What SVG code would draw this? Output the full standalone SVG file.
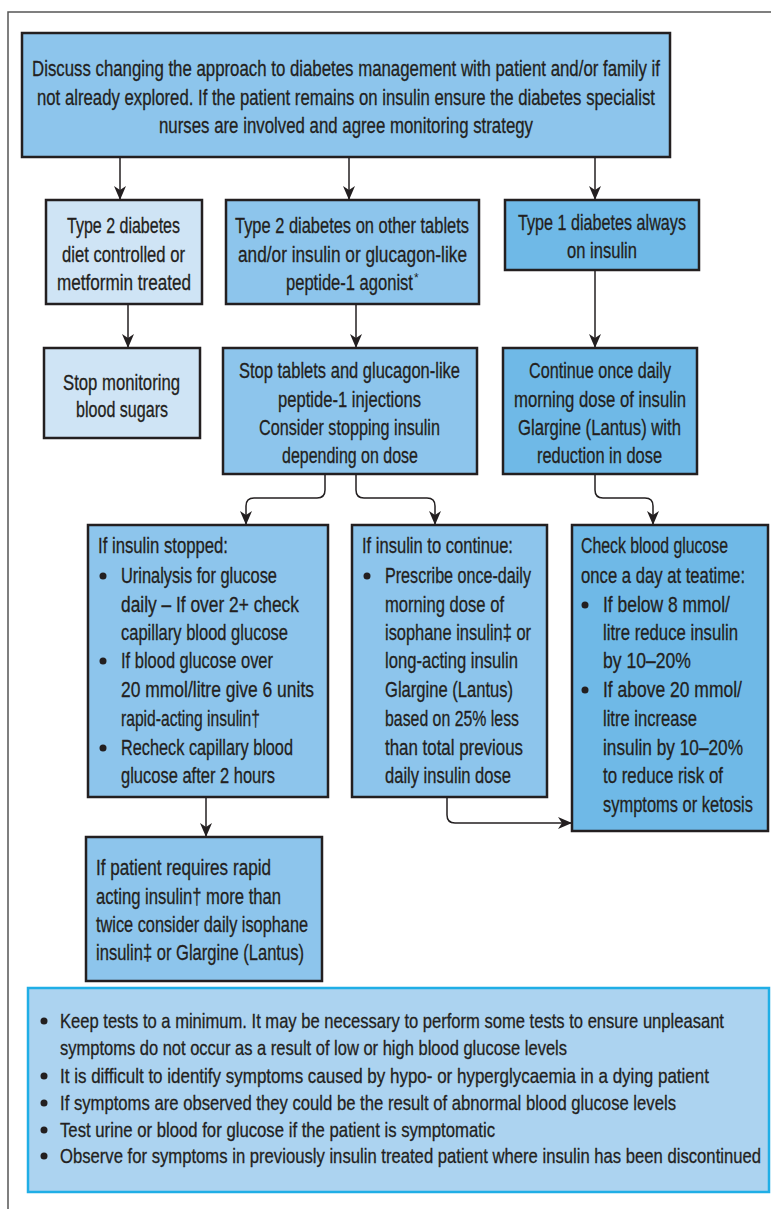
<svg xmlns="http://www.w3.org/2000/svg" width="771" height="1209" viewBox="0 0 771 1209">
<style>
.bx{stroke:#231f20;stroke-width:2.5}
.lt{fill:#cfe4f5}
.md{fill:#8dc5ec}
.dk{fill:#6fb9e7}
.t{font-family:"Liberation Sans",Arial,sans-serif;font-size:22px;fill:#231f20;stroke:#231f20;stroke-width:0.3}
.s{font-size:21px}
.c{fill:none;stroke:#231f20;stroke-width:1.5}
.b{fill:#231f20}
</style>
<defs>
<marker id="ah" viewBox="0 -7 14 14" markerWidth="14" markerHeight="14" refX="14" refY="0" orient="auto" markerUnits="userSpaceOnUse">
<path d="M0,-6 L14,0 L0,6 L4,0 z" fill="#231f20"/>
</marker>
</defs>
<rect width="771" height="1209" fill="#fff"/>
<path d="M8,1209 V12 H771" fill="none" stroke="#555" stroke-width="1.5"/>

<g id="connectors">
<path class="c" marker-end="url(#ah)" d="M120,157 V200"/>
<path class="c" marker-end="url(#ah)" d="M349,157 V200"/>
<path class="c" marker-end="url(#ah)" d="M595,157 V200"/>
<path class="c" marker-end="url(#ah)" d="M128,304 V348"/>
<path class="c" marker-end="url(#ah)" d="M356,304 V348"/>
<path class="c" marker-end="url(#ah)" d="M595,270 V348"/>
<path class="c" marker-end="url(#ah)" d="M325,474 V490 Q325,498 317,498 H254 Q246,498 246,506 V525"/>
<path class="c" marker-end="url(#ah)" d="M356,474 V490 Q356,498 364,498 H427 Q435,498 435,506 V525"/>
<path class="c" marker-end="url(#ah)" d="M595,474 V490 Q595,498 603,498 H645 Q653,498 653,506 V525"/>
<path class="c" marker-end="url(#ah)" d="M206,797 V837"/>
<path class="c" marker-end="url(#ah)" d="M447,797 V815 Q447,823 455,823 H572"/>
</g>

<g id="n0">
<rect class="bx md" x="22" y="33" width="648" height="124"/>
<text class="t" transform="translate(32,76) scale(0.75,1)" textLength="837.3" lengthAdjust="spacingAndGlyphs">Discuss changing the approach to diabetes management with patient and/or family if</text>
<text class="t" transform="translate(37,105) scale(0.75,1)" textLength="824" lengthAdjust="spacingAndGlyphs">not already explored. If the patient remains on insulin ensure the diabetes specialist</text>
<text class="t" transform="translate(159,133) scale(0.75,1)" textLength="498.7" lengthAdjust="spacingAndGlyphs">nurses are involved and agree monitoring strategy</text>
</g>

<g id="n1">
<rect class="bx lt" x="46" y="200" width="156" height="104"/>
<text class="t" transform="translate(67,233) scale(0.75,1)" textLength="150.7" lengthAdjust="spacingAndGlyphs">Type 2 diabetes</text>
<text class="t" transform="translate(62,262) scale(0.75,1)" textLength="164" lengthAdjust="spacingAndGlyphs">diet controlled or</text>
<text class="t" transform="translate(57,290) scale(0.75,1)" textLength="178.7" lengthAdjust="spacingAndGlyphs">metformin treated</text>
</g>

<g id="n2">
<rect class="bx md" x="226" y="200" width="253" height="104"/>
<text class="t" transform="translate(235,233) scale(0.75,1)" textLength="312" lengthAdjust="spacingAndGlyphs">Type 2 diabetes on other tablets</text>
<text class="t" transform="translate(238,262) scale(0.75,1)" textLength="305.3" lengthAdjust="spacingAndGlyphs">and/or insulin or glucagon-like</text>
<text class="t" transform="translate(286,290) scale(0.75,1)" textLength="169.3" lengthAdjust="spacingAndGlyphs">peptide-1 agonist</text>
<text x="414" y="282" style="font-family:'Liberation Sans',Arial,sans-serif;font-size:12px;fill:#231f20">*</text>
</g>

<g id="n3">
<rect class="bx dk" x="505" y="200" width="194" height="70"/>
<text class="t" transform="translate(518,230) scale(0.75,1)" textLength="224" lengthAdjust="spacingAndGlyphs">Type 1 diabetes always</text>
<text class="t" transform="translate(567,258) scale(0.75,1)" textLength="93.3" lengthAdjust="spacingAndGlyphs">on insulin</text>
</g>

<g id="n4">
<rect class="bx lt" x="44" y="348" width="156" height="90"/>
<text class="t" transform="translate(63,390) scale(0.75,1)" textLength="156" lengthAdjust="spacingAndGlyphs">Stop monitoring</text>
<text class="t" transform="translate(76,417) scale(0.75,1)" textLength="122.7" lengthAdjust="spacingAndGlyphs">blood sugars</text>
</g>

<g id="n5">
<rect class="bx md" x="223" y="348" width="254" height="126"/>
<text class="t" transform="translate(239,378) scale(0.75,1)" textLength="294.7" lengthAdjust="spacingAndGlyphs">Stop tablets and glucagon-like</text>
<text class="t" transform="translate(278,407) scale(0.75,1)" textLength="190.7" lengthAdjust="spacingAndGlyphs">peptide-1 injections</text>
<text class="t" transform="translate(259,435) scale(0.75,1)" textLength="241.3" lengthAdjust="spacingAndGlyphs">Consider stopping insulin</text>
<text class="t" transform="translate(282,463) scale(0.75,1)" textLength="181.3" lengthAdjust="spacingAndGlyphs">depending on dose</text>
</g>

<g id="n6">
<rect class="bx dk" x="503" y="348" width="194" height="126"/>
<text class="t" transform="translate(529,378) scale(0.75,1)" textLength="189.3" lengthAdjust="spacingAndGlyphs">Continue once daily</text>
<text class="t" transform="translate(514,407) scale(0.75,1)" textLength="229.3" lengthAdjust="spacingAndGlyphs">morning dose of insulin</text>
<text class="t" transform="translate(518,435) scale(0.75,1)" textLength="217.3" lengthAdjust="spacingAndGlyphs">Glargine (Lantus) with</text>
<text class="t" transform="translate(537,463) scale(0.75,1)" textLength="166.7" lengthAdjust="spacingAndGlyphs">reduction in dose</text>
</g>

<g id="n7">
<rect class="bx md" x="88" y="525" width="240" height="272"/>
<text class="t" transform="translate(98,553) scale(0.75,1)" textLength="173.3" lengthAdjust="spacingAndGlyphs">If insulin stopped:</text>
<circle class="b" cx="103" cy="576" r="3.5"/>
<circle class="b" cx="103" cy="661" r="3.5"/>
<circle class="b" cx="103" cy="748" r="3.5"/>
<text class="t" transform="translate(121,583) scale(0.75,1)" textLength="208" lengthAdjust="spacingAndGlyphs">Urinalysis for glucose</text>
<text class="t" transform="translate(121,612) scale(0.75,1)" textLength="237.3" lengthAdjust="spacingAndGlyphs">daily – If over 2+ check</text>
<text class="t" transform="translate(121,640) scale(0.75,1)" textLength="222.7" lengthAdjust="spacingAndGlyphs">capillary blood glucose</text>
<text class="t" transform="translate(121,668) scale(0.75,1)" textLength="202.7" lengthAdjust="spacingAndGlyphs">If blood glucose over</text>
<text class="t" transform="translate(121,697) scale(0.75,1)" textLength="257.3" lengthAdjust="spacingAndGlyphs">20 mmol/litre give 6 units</text>
<text class="t" transform="translate(121,726) scale(0.75,1)" textLength="185.3" lengthAdjust="spacingAndGlyphs">rapid-acting insulin†</text>
<text class="t" transform="translate(121,755) scale(0.75,1)" textLength="229.3" lengthAdjust="spacingAndGlyphs">Recheck capillary blood</text>
<text class="t" transform="translate(121,783) scale(0.75,1)" textLength="205.3" lengthAdjust="spacingAndGlyphs">glucose after 2 hours</text>
</g>

<g id="n8">
<rect class="bx md" x="352" y="525" width="195" height="272"/>
<text class="t" transform="translate(362,553) scale(0.75,1)" textLength="201.3" lengthAdjust="spacingAndGlyphs">If insulin to continue:</text>
<circle class="b" cx="367" cy="576" r="3.5"/>
<text class="t" transform="translate(385,583) scale(0.75,1)" textLength="194.7" lengthAdjust="spacingAndGlyphs">Prescribe once-daily</text>
<text class="t" transform="translate(385,612) scale(0.75,1)" textLength="158.7" lengthAdjust="spacingAndGlyphs">morning dose of</text>
<text class="t" transform="translate(385,640) scale(0.75,1)" textLength="194.7" lengthAdjust="spacingAndGlyphs">isophane insulin‡ or</text>
<text class="t" transform="translate(385,668) scale(0.75,1)" textLength="177.3" lengthAdjust="spacingAndGlyphs">long-acting insulin</text>
<text class="t" transform="translate(385,697) scale(0.75,1)" textLength="170.7" lengthAdjust="spacingAndGlyphs">Glargine (Lantus)</text>
<text class="t" transform="translate(385,726) scale(0.75,1)" textLength="178.7" lengthAdjust="spacingAndGlyphs">based on 25% less</text>
<text class="t" transform="translate(385,755) scale(0.75,1)" textLength="184" lengthAdjust="spacingAndGlyphs">than total previous</text>
<text class="t" transform="translate(385,783) scale(0.75,1)" textLength="168" lengthAdjust="spacingAndGlyphs">daily insulin dose</text>
</g>

<g id="n9">
<rect class="bx dk" x="572" y="525" width="196" height="306"/>
<text class="t" transform="translate(581,553) scale(0.75,1)" textLength="196" lengthAdjust="spacingAndGlyphs">Check blood glucose</text>
<text class="t" transform="translate(581,583) scale(0.75,1)" textLength="218.7" lengthAdjust="spacingAndGlyphs">once a day at teatime:</text>
<circle class="b" cx="585" cy="605" r="3.5"/>
<circle class="b" cx="585" cy="690" r="3.5"/>
<text class="t" transform="translate(603,612) scale(0.75,1)" textLength="169.3" lengthAdjust="spacingAndGlyphs">If below 8 mmol/</text>
<text class="t" transform="translate(603,640) scale(0.75,1)" textLength="180" lengthAdjust="spacingAndGlyphs">litre reduce insulin</text>
<text class="t" transform="translate(603,668) scale(0.75,1)" textLength="117.3" lengthAdjust="spacingAndGlyphs">by 10–20%</text>
<text class="t" transform="translate(603,697) scale(0.75,1)" textLength="185.3" lengthAdjust="spacingAndGlyphs">If above 20 mmol/</text>
<text class="t" transform="translate(603,726) scale(0.75,1)" textLength="125.3" lengthAdjust="spacingAndGlyphs">litre increase</text>
<text class="t" transform="translate(603,755) scale(0.75,1)" textLength="186.7" lengthAdjust="spacingAndGlyphs">insulin by 10–20%</text>
<text class="t" transform="translate(603,783) scale(0.75,1)" textLength="160" lengthAdjust="spacingAndGlyphs">to reduce risk of</text>
<text class="t" transform="translate(603,812) scale(0.75,1)" textLength="200" lengthAdjust="spacingAndGlyphs">symptoms or ketosis</text>
</g>

<g id="n10">
<rect class="bx md" x="86" y="837" width="236" height="144"/>
<text class="t" transform="translate(96,875) scale(0.75,1)" textLength="233.3" lengthAdjust="spacingAndGlyphs">If patient requires rapid</text>
<text class="t" transform="translate(96,904) scale(0.75,1)" textLength="246.7" lengthAdjust="spacingAndGlyphs">acting insulin† more than</text>
<text class="t" transform="translate(96,932) scale(0.75,1)" textLength="282.7" lengthAdjust="spacingAndGlyphs">twice consider daily isophane</text>
<text class="t" transform="translate(96,960) scale(0.75,1)" textLength="277.3" lengthAdjust="spacingAndGlyphs">insulin‡ or Glargine (Lantus)</text>
</g>

<g id="n11">
<rect x="28" y="988" width="741" height="204" fill="#acd3f0" stroke="#20aee6" stroke-width="2.5"/>
<circle class="b" cx="44" cy="1021" r="3.5"/>
<circle class="b" cx="44" cy="1076" r="3.5"/>
<circle class="b" cx="44" cy="1103" r="3.5"/>
<circle class="b" cx="44" cy="1130" r="3.5"/>
<circle class="b" cx="44" cy="1156" r="3.5"/>
<text class="t s" transform="translate(60,1028) scale(0.75,1)" textLength="885.3" lengthAdjust="spacingAndGlyphs">Keep tests to a minimum. It may be necessary to perform some tests to ensure unpleasant</text>
<text class="t s" transform="translate(60,1055) scale(0.75,1)" textLength="676" lengthAdjust="spacingAndGlyphs">symptoms do not occur as a result of low or high blood glucose levels</text>
<text class="t s" transform="translate(60,1083) scale(0.75,1)" textLength="865.3" lengthAdjust="spacingAndGlyphs">It is difficult to identify symptoms caused by hypo- or hyperglycaemia in a dying patient</text>
<text class="t s" transform="translate(60,1110) scale(0.75,1)" textLength="821.3" lengthAdjust="spacingAndGlyphs">If symptoms are observed they could be the result of abnormal blood glucose levels</text>
<text class="t s" transform="translate(60,1137) scale(0.75,1)" textLength="580" lengthAdjust="spacingAndGlyphs">Test urine or blood for glucose if the patient is symptomatic</text>
<text class="t s" transform="translate(60,1163) scale(0.75,1)" textLength="934.7" lengthAdjust="spacingAndGlyphs">Observe for symptoms in previously insulin treated patient where insulin has been discontinued</text>
</g>
</svg>
